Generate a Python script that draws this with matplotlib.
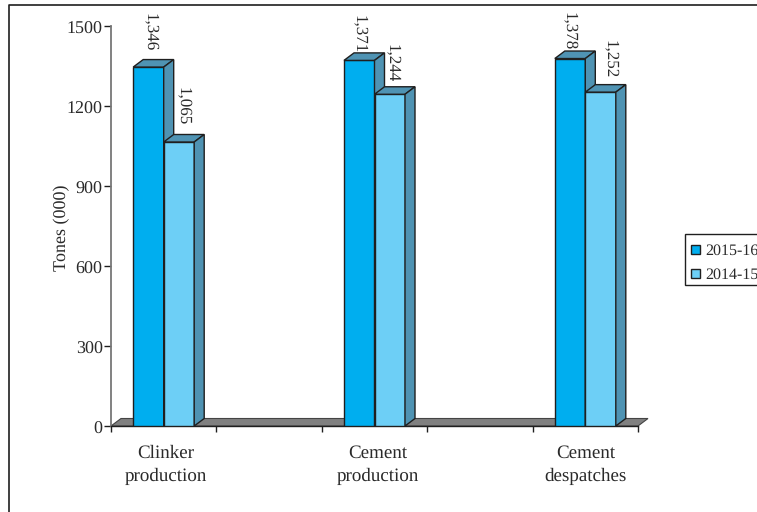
import matplotlib
matplotlib.use("Agg")
import matplotlib.pyplot as plt
from matplotlib.patches import Polygon, Rectangle
from matplotlib.transforms import ScaledTranslation

categories = ["Clinker\nproduction", "Cement\nproduction", "Cement\ndespatches"]
series_names = ["2015-16", "2014-15"]
values_2015 = [1346, 1371, 1378]
values_2014 = [1065, 1244, 1252]
labels_2015 = ["1,346", "1,371", "1,378"]
labels_2014 = ["1,065", "1,244", "1,252"]
yticks = [0, 300, 600, 900, 1200, 1500]
xticks = [0, 1, 2, 3, 4, 5]
group_pos = [0.5, 2.5, 4.5]

W, H = 757, 512
plt.rcParams["font.family"] = ["Liberation Serif", "DejaVu Serif"]
plt.rcParams["text.hinting"] = "no_hinting"
plt.rcParams["text.hinting_factor"] = 1
ink = "#1f1f1f"
text_col = "#2a2a2a"
dark_blue = "#00aeef"
light_blue = "#6dcff6"
side_col = "#4f93b3"
floor_col = "#808080"
axis_col = "#777777"

# label nudges in pixels: space above the bar top, sideways shift
gap_2015 = [8, 0, 1]
gap_2014 = [9, 5, 6]
shift_2015 = [-3, -5, -6]
shift_2014 = [-1, -3, 5]
cat_shift = [2, 3, 0]

fig = plt.figure(figsize=(W / 100, H / 100), dpi=100)

# outer frame, runs off the right and bottom of the picture
fig.add_artist(plt.Line2D([9 / W, 9 / W, 1], [0, 1 - 4.5 / H, 1 - 4.5 / H], color=ink, lw=1.2))

# axes box in pixels: x 111-638, y 426-26
ax = fig.add_axes([111 / W, 1 - 426 / H, 527 / W, 400 / H])
ax.set_xlim(0, 5)
ax.set_ylim(0, 1500)
ax.patch.set_visible(False)

# depth of the fake 3d in data units
px_x = 5 / 527
px_y = 1500 / 400
dx = 10 * px_x
dy = 7.5 * px_y
bar_w = 30.5 * px_x


def box3d(x, h, col):
    ax.bar(x, h, width=bar_w, align="edge", color=col, edgecolor=ink, lw=1.0, zorder=3)
    top = [(x, h), (x + dx, h + dy), (x + bar_w + dx, h + dy), (x + bar_w, h)]
    side = [(x + bar_w, 0), (x + bar_w + dx, dy), (x + bar_w + dx, h + dy), (x + bar_w, h)]
    ax.add_patch(Polygon(top, fc=side_col, ec=ink, lw=1.0, zorder=3, clip_on=False))
    ax.add_patch(Polygon(side, fc=side_col, ec=ink, lw=1.0, zorder=3, clip_on=False))


# floor
floor = [(0, 0), (dx, dy), (5 + dx, dy), (5, 0)]
ax.add_patch(Polygon(floor, fc=floor_col, ec="#444444", lw=0.8, zorder=1, clip_on=False))

for i, p in enumerate(group_pos):
    x0 = p - bar_w
    box3d(x0, values_2015[i], dark_blue)
    box3d(p, values_2014[i], light_blue)
    ax.text(x0 + bar_w / 2 + dx / 2 + shift_2015[i] * px_x, values_2015[i] + dy + gap_2015[i] * px_y,
            labels_2015[i], rotation=270, ha="center", va="bottom", fontsize=12, color=text_col,
            clip_on=False, zorder=4)
    ax.text(p + bar_w / 2 + dx / 2 + shift_2014[i] * px_x, values_2014[i] + dy + gap_2014[i] * px_y,
            labels_2014[i], rotation=270, ha="center", va="bottom", fontsize=12, color=text_col,
            clip_on=False, zorder=4)

for s in ["top", "right"]:
    ax.spines[s].set_visible(False)
ax.spines["left"].set_color(axis_col)
ax.spines["left"].set_linewidth(1.3)
ax.spines["bottom"].set_color(ink)
ax.spines["bottom"].set_linewidth(1.0)

ax.set_yticks(yticks)
ax.tick_params(axis="y", length=5, width=1, color=ink, labelsize=13, labelcolor=text_col, pad=1)
down = ScaledTranslation(0, -1.5 / 72, fig.dpi_scale_trans)
for lab in ax.get_yticklabels():
    lab.set_transform(lab.get_transform() + down)
ax.set_xticks(xticks)
ax.set_xticklabels([])
ax.tick_params(axis="x", length=4.5, width=1, color=ink)

for i, c in enumerate(categories):
    ax.text(group_pos[i] + cat_shift[i] * px_x, -68, c, ha="center", va="top", fontsize=13.6,
            color=text_col, linespacing=1.5, clip_on=False)

ax.set_ylabel("Tones (000)", fontsize=13, color=text_col)
ax.yaxis.set_label_coords(-0.078, 0.495)

# legend box, its right side falls outside the picture like the original
fig.add_artist(Rectangle((685 / W, 1 - 285 / H), 90 / W, 51 / H, fc="white", ec=ink, lw=1,
                         transform=fig.transFigure))
rows = [249, 273]
cols = [dark_blue, light_blue]
for name, col, r in zip(series_names, cols, rows):
    fig.add_artist(Rectangle((691 / W, 1 - (r + 4.5) / H), 9 / W, 9 / H, fc=col, ec=ink, lw=1,
                             transform=fig.transFigure))
    fig.text(705 / W, 1 - (r + 1.5) / H, name, fontsize=11.3, color=text_col, ha="left", va="center")

plt.savefig("out.png", dpi=100)
